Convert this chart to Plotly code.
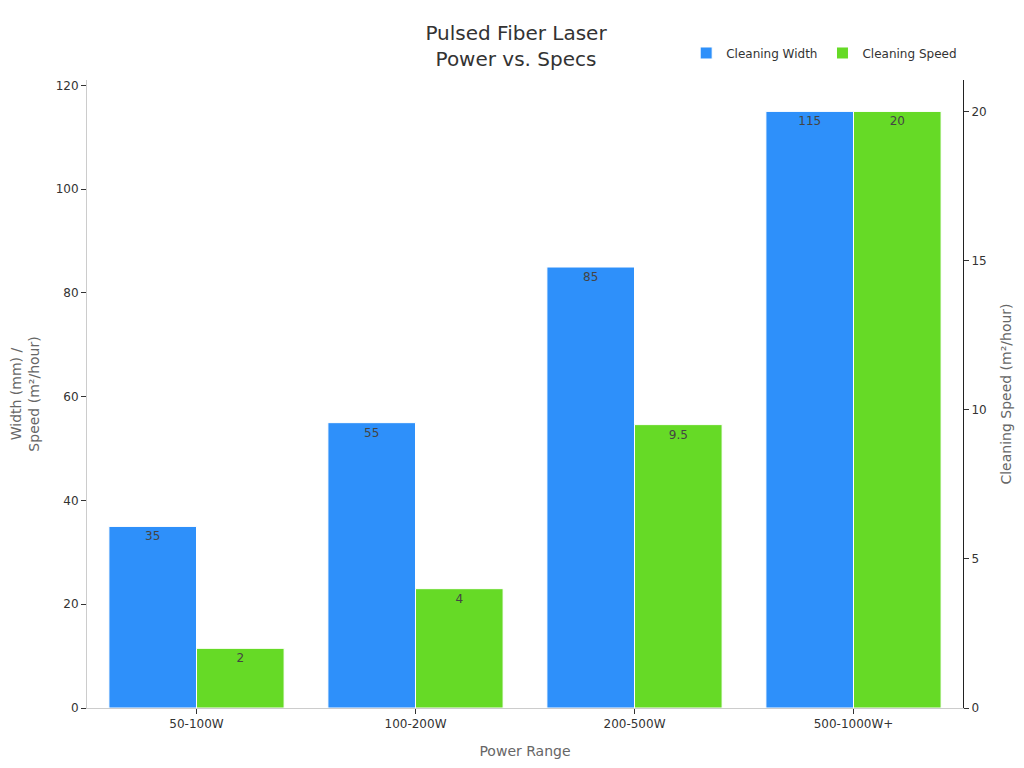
import plotly.graph_objects as go

categories = ["50-100W", "100-200W", "200-500W", "500-1000W+"]
cleaning_width = [35, 55, 85, 115]
cleaning_speed = [2, 4, 9.5, 20]
width_labels = ["35", "55", "85", "115"]
speed_labels = ["2", "4", "9.5", "20"]

fig = go.Figure()
fig.add_trace(go.Bar(
    x=categories, y=cleaning_width, name="Cleaning Width",
    marker=dict(color="#2E90FA", line=dict(color="white", width=1)),
    text=width_labels, textposition="inside", insidetextanchor="end",
    textfont=dict(color="#444444", size=12), offsetgroup=0,
))
fig.add_trace(go.Bar(
    x=categories, y=cleaning_speed, name="Cleaning Speed", yaxis="y2",
    marker=dict(color="#66DA26", line=dict(color="white", width=1)),
    text=speed_labels, textposition="inside", insidetextanchor="end",
    textfont=dict(color="#444444", size=12), offsetgroup=1,
))

fig.update_layout(
    width=1016, height=760,
    paper_bgcolor="white", plot_bgcolor="white",
    font=dict(family="DejaVu Sans", size=12, color="#333333"),
    title=dict(text="Pulsed Fiber Laser<br>Power vs. Specs", x=0.5, xanchor="center",
               y=0.958, yanchor="top", font=dict(size=20, color="#333333")),
    margin=dict(l=79, r=61, t=72, b=60),
    barmode="group", bargap=0.2, bargroupgap=0,
    legend=dict(orientation="h", x=0.684, xanchor="left", y=1.043, yanchor="middle",
                font=dict(size=12, color="#333333"), bgcolor="rgba(0,0,0,0)"),
    xaxis=dict(title=dict(text="Power Range", font=dict(size=14, color="#666666")),
               automargin=False,
               showline=True, linecolor="#cccccc", linewidth=1,
               ticks="outside", ticklen=5, tickcolor="#333333", showgrid=False),
    yaxis=dict(title=dict(text="Width (mm) /<br>Speed (m²/hour)", font=dict(size=14, color="#666666")),
               automargin=False,
               range=[0, 121.05], dtick=20, showline=True, linecolor="#cccccc", linewidth=1,
               ticks="outside", ticklen=5, tickcolor="#333333", showgrid=False, zeroline=False),
    yaxis2=dict(title=dict(text="Cleaning Speed (m²/hour)", font=dict(size=14, color="#666666")),
                automargin=False,
                overlaying="y", side="right", range=[0, 21.053], dtick=5,
                showline=True, linecolor="#222222", linewidth=1,
                ticks="outside", ticklen=5, tickcolor="#333333", showgrid=False, zeroline=False),
)

fig.write_html("out.html")
